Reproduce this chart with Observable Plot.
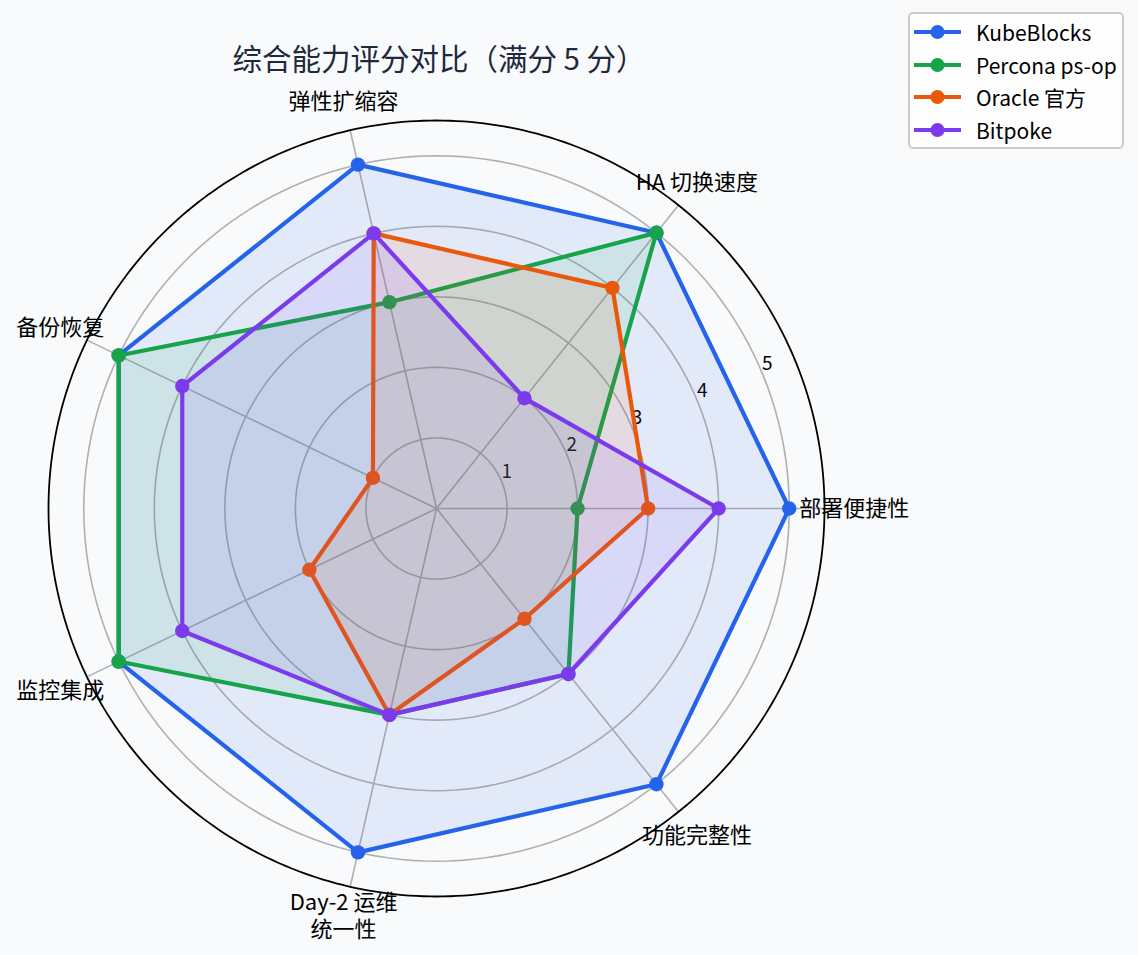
<!DOCTYPE html>
<html>
<head>
<meta charset="utf-8">
<script src="https://cdn.jsdelivr.net/npm/d3@7"></script>
<script src="https://cdn.jsdelivr.net/npm/@observablehq/plot@0.6"></script>
<style>
  html, body { margin: 0; padding: 0; background: #f8fafc; }
  body { font-family: "Noto Sans CJK SC", "Noto Sans", sans-serif; }
  #wrap { position: relative; width: 1138px; height: 955px; overflow: hidden; }
  #title { position: absolute; left: 8px; top: 43px; width: 862px; text-align: center;
           font-size: 29.5px; line-height: 29px; color: #1e293b; white-space: nowrap; }
  #chart { position: absolute; left: 0; top: 0; }
  #legend { position: absolute; left: 908px; top: 12px; width: 212px; height: 133px;
            background: rgba(255,255,255,0.8); border: 2px solid #cccccc; border-radius: 5px; }
  .row { position: absolute; left: 4px; height: 20px; display: flex; align-items: center; white-space: nowrap; }
  .row span { margin-left: 14px; font-size: 21px; color: #000; line-height: 20px; white-space: nowrap; }
</style>
</head>
<body>
<div id="wrap">
  <div id="chart"></div>
  <div id="title">综合能力评分对比（满分 5 分）</div>
  <div id="legend"></div>
</div>
<script>
// ---- data ----
const categories = ["部署便捷性", "HA 切换速度", "弹性扩缩容", "备份恢复", "监控集成", "Day-2 运维\n统一性", "功能完整性"];
const seriesNames = ["KubeBlocks", "Percona ps-op", "Oracle 官方", "Bitpoke"];
const kubeblocks = [5, 5, 5, 5, 5, 5, 5];
const percona    = [2, 5, 3, 5, 5, 3, 3];
const oracle     = [3, 4, 4, 1, 2, 3, 2];
const bitpoke    = [4, 2, 4, 4, 4, 3, 3];
const seriesColors = ["#2563eb", "#16a34a", "#ea580c", "#7c3aed"];
const tickValues = [1, 2, 3, 4, 5];
const tickLabels = ["1", "2", "3", "4", "5"];
const rMax = 5.5;
const labelRadius = 5.92;

const seriesValues = [kubeblocks, percona, oracle, bitpoke];
const n = categories.length;
const angle = i => (i * 2 * Math.PI) / n;

// polar -> cartesian helpers (data space)
const px = (r, a) => r * Math.cos(a);
const py = (r, a) => r * Math.sin(a);

const seriesRows = seriesNames.map((name, s) =>
  seriesValues[s].map((v, i) => ({series: name, cat: categories[i], value: v, x: px(v, angle(i)), y: py(v, angle(i))}))
);

const circleRows = [];
for (const t of tickValues) {
  for (let d = 0; d <= 360; d += 2) {
    const a = d * Math.PI / 180;
    circleRows.push({r: t, x: px(t, a), y: py(t, a)});
  }
}
const outerRows = [];
for (let d = 0; d <= 360; d += 1) {
  const a = d * Math.PI / 180;
  outerRows.push({x: px(rMax, a), y: py(rMax, a)});
}
const spokes = categories.map((c, i) => ({x1: 0, y1: 0, x2: px(rMax, angle(i)), y2: py(rMax, angle(i))}));
const catLabels = categories.map((c, i) => ({label: c, x: px(labelRadius, angle(i)), y: py(labelRadius, angle(i))}));
const tickAngle = 22.5 * Math.PI / 180;
const tickRows = tickValues.map((t, k) => ({label: tickLabels[k], x: px(t, tickAngle), y: py(t, tickAngle)}));

const W = 1138, H = 955, cx = 436, cy = 508, R = 388;

const marks = [
  Plot.line(circleRows, {x: "x", y: "y", z: "r", stroke: "#b0b0b0", strokeWidth: 1.6}),
  Plot.link(spokes, {x1: "x1", y1: "y1", x2: "x2", y2: "y2", stroke: "#b0b0b0", strokeWidth: 1.6}),
  Plot.line(outerRows, {x: "x", y: "y", stroke: "#000000", strokeWidth: 1.8}),
  Plot.text(tickRows, {x: "x", y: "y", text: "label", fontSize: 19, fill: "#000", textAnchor: "middle", lineAnchor: "middle", dx: 5, dy: -10})
];
seriesRows.forEach((rows, s) => {
  marks.push(Plot.line(rows, {x: "x", y: "y", curve: "linear-closed", stroke: seriesColors[s], strokeWidth: 4.2,
    fill: seriesColors[s], fillOpacity: 0.1, strokeLinejoin: "miter"}));
  marks.push(Plot.dot(rows, {x: "x", y: "y", r: 7.2, fill: seriesColors[s], stroke: "none"}));
});
marks.push(Plot.text(catLabels, {x: "x", y: "y", text: "label", fontSize: 22, fill: "#000", textAnchor: "middle",
  lineAnchor: "middle", lineHeight: 1.25, dy: -1}));

const chart = Plot.plot({
  width: W, height: H,
  marginLeft: cx - R, marginRight: W - cx - R, marginTop: cy - R, marginBottom: H - cy - R,
  x: {domain: [-rMax, rMax], axis: null},
  y: {domain: [-rMax, rMax], axis: null},
  style: {background: "transparent", fontFamily: "'Noto Sans CJK SC', 'Noto Sans', sans-serif", overflow: "visible"},
  marks
});
document.getElementById("chart").appendChild(chart);

// legend
const legend = document.getElementById("legend");
const rowTops = [8, 41, 73, 106];
seriesNames.forEach((name, s) => {
  const row = document.createElement("div");
  row.className = "row";
  row.style.top = rowTops[s] + "px";
  row.innerHTML = `<svg width="48" height="20"><line x1="0" y1="10" x2="47" y2="10" stroke="${seriesColors[s]}" stroke-width="4"/><circle cx="23.5" cy="10" r="7" fill="${seriesColors[s]}"/></svg><span>${name}</span>`;
  legend.appendChild(row);
});
</script>
</body>
</html>
